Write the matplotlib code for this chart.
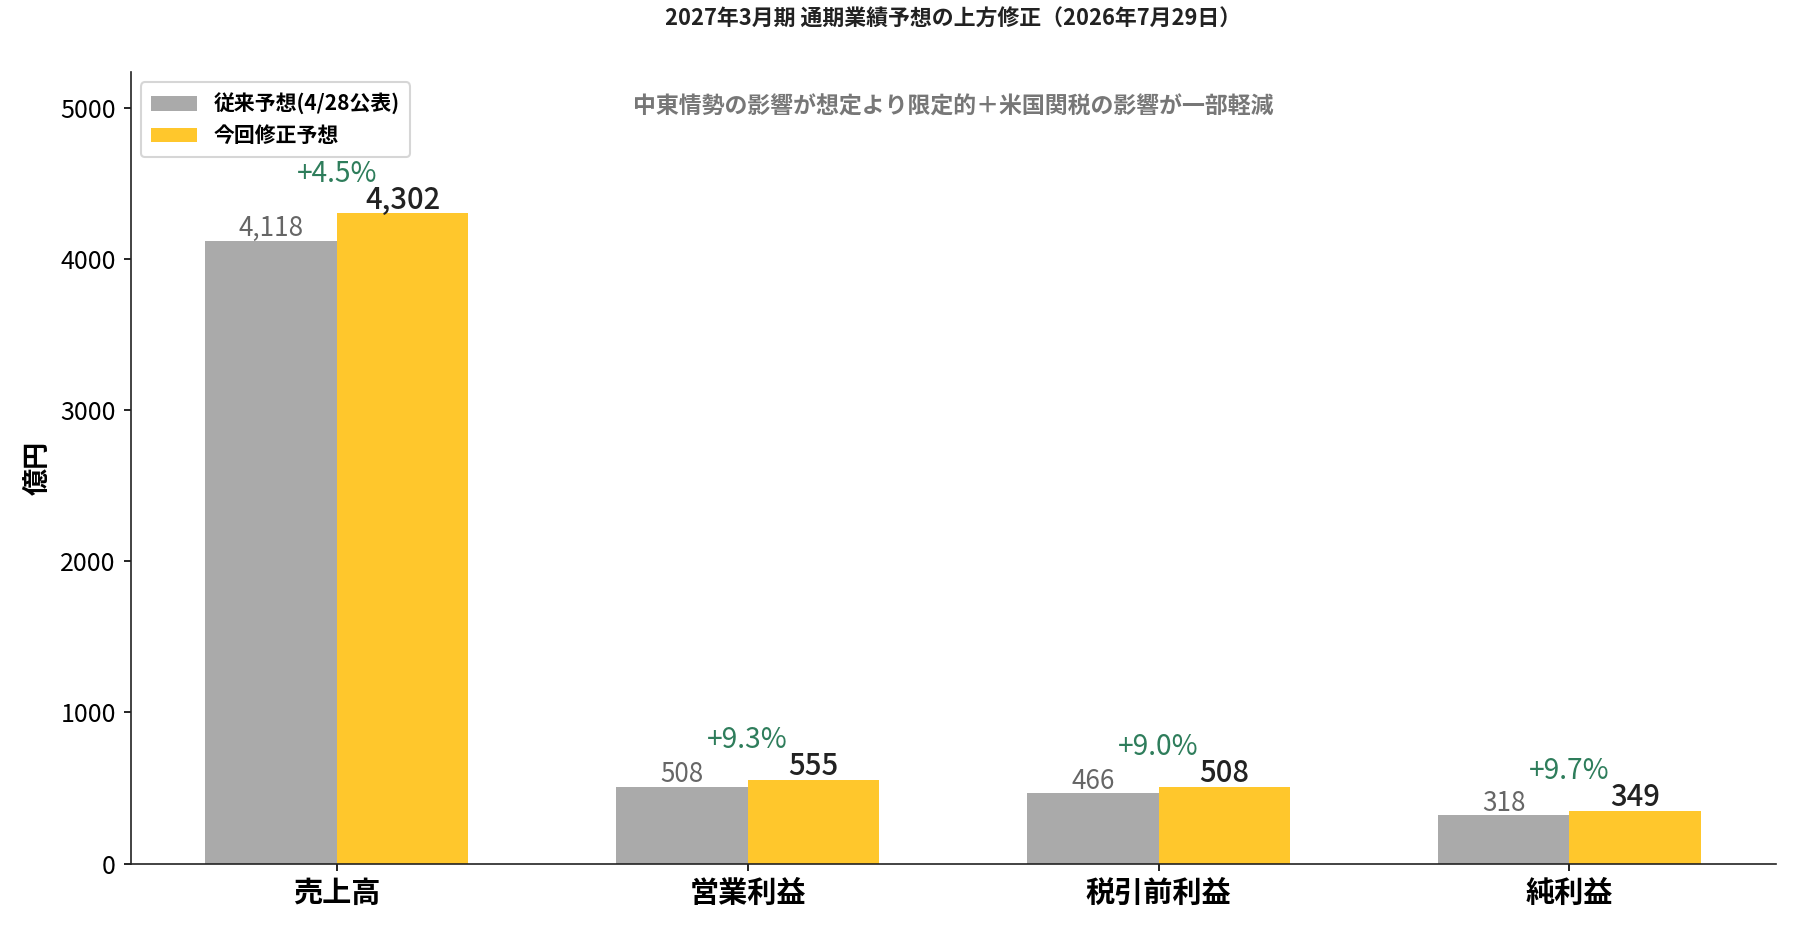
import matplotlib
matplotlib.use("Agg")
import matplotlib.pyplot as plt
import numpy as np

plt.rcParams['font.family'] = ['Noto Sans CJK JP', 'DejaVu Sans']

categories = ["売上高", "営業利益", "税引前利益", "純利益"]
previous = [4118, 508, 466, 318]
revised = [4302, 555, 508, 349]
change_pct = ["+4.5%", "+9.3%", "+9.0%", "+9.7%"]
series_names = ["従来予想(4/28公表)", "今回修正予想"]
title = "2027年3月期 通期業績予想の上方修正（2026年7月29日）"
subtitle = "中東情勢の影響が想定より限定的＋米国関税の影響が一部軽減"
ylabel = "億円"

fig = plt.figure(figsize=(12, 6.2), dpi=150)
ax = fig.add_axes([0.0725, 0.0715, 0.914, 0.851])

x = np.arange(len(categories))
w = 0.32
c_prev = "#AAAAAA"
c_new = "#FFC72C"
ax.bar(x - w / 2, previous, w, color=c_prev, label=series_names[0])
ax.bar(x + w / 2, revised, w, color=c_new, label=series_names[1])

for i in range(len(categories)):
    ax.text(x[i] - w / 2, previous[i] + 30, f"{previous[i]:,}", ha="center", va="baseline",
            fontsize=12.5, color="#666666")
    ax.text(x[i] + w / 2, revised[i] + 30, f"{revised[i]:,}", ha="center", va="baseline",
            fontsize=14, color="#222222", fontweight="medium")
    ax.text(x[i], revised[i] + 262, change_pct[i], ha="center", va="center",
            fontsize=13.5, color="#2E7D5B")

ax.set_ylim(0, 5235)
ax.set_xticks(x)
ax.set_xticklabels(categories, fontsize=14, fontweight="bold")
ax.tick_params(axis="y", labelsize=12)
ax.set_ylabel(ylabel, fontsize=13, fontweight="bold")
ax.yaxis.set_label_coords(-0.048, 0.5)
ax.set_title(title, fontsize=10.5, fontweight="bold", pad=22, color="#222222")
ax.text(0.5, 0.956, subtitle, transform=ax.transAxes, ha="center", va="center",
        fontsize=11, fontweight="bold", color="#777777")
for s in ["top", "right"]:
    ax.spines[s].set_visible(False)
for s in ["left", "bottom"]:
    ax.spines[s].set_color("#222222")
leg = ax.legend(loc="upper left", prop={"weight": "bold", "size": 10},
                frameon=True, borderpad=0.5, handlelength=2.2)

fig.savefig("out.png", dpi=150)
